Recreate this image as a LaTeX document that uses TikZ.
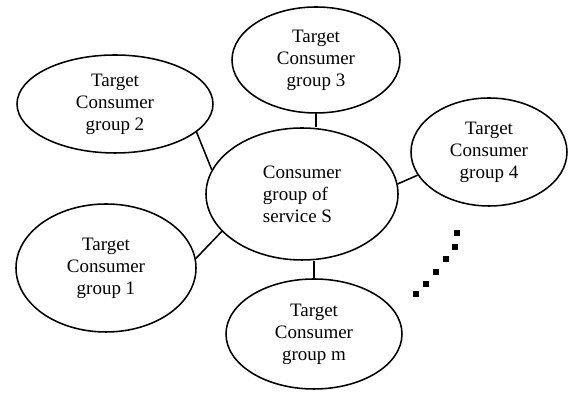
\documentclass[tikz,border=0pt]{standalone}
\usepackage{fontspec}
\setmainfont{Liberation Serif}
\usepackage{tikz}
\usetikzlibrary{shapes.geometric}

\begin{document}
\begin{tikzpicture}[
    group/.style={ellipse, draw, line width=1.1pt, inner sep=0pt, align=center, font=\fontsize{13.5}{15.6}\selectfont},
    link/.style={line width=1.1pt},
    dot/.style={fill=black}
]
\useasboundingbox (0,0) rectangle (14.2,9.825);

% Consumer group of the service
\node[group, align=left, minimum width=4.8cm, minimum height=3.3cm] (core) at (7.55,4.975) {Consumer\\group of\\service S};

% Target groups
\node[group, minimum width=4.9cm, minimum height=2.45cm] (grp2) at (2.875,7.225) {Target\\Consumer\\group 2};
\node[group, minimum width=4.2cm, minimum height=2.65cm] (grp3) at (7.9,8.325) {Target\\Consumer\\group 3};
\node[group, minimum width=3.9cm, minimum height=2.7cm] (grp4) at (12.225,6.025) {Target\\Consumer\\group 4};
\node[group, minimum width=4.5cm, minimum height=3.2cm] (grp1) at (2.65,3.125) {Target\\Consumer\\group 1};
\node[group, minimum width=4.4cm, minimum height=2.75cm] (grpm) at (7.85,1.475) {Target\\Consumer\\group m};

% Links
\draw[link] (grp3.south) -- (grp3.south |- core.north);
\draw[link] (grpm.north) -- (grpm.north |- core.south);
\draw[link] (grp2.-19) -- (core.165);
\draw[link] (grp1.6) -- (core.-155);
\draw[link] (core.6) -- (grp4.-162);

% More groups
\foreach \x/\y in {11.425/4.0, 11.375/3.65, 11.15/3.35, 10.9/3.025, 10.65/2.725, 10.4/2.475}
    \fill[dot] (\x-0.07,\y-0.07) rectangle (\x+0.07,\y+0.07);

\end{tikzpicture}
\end{document}
